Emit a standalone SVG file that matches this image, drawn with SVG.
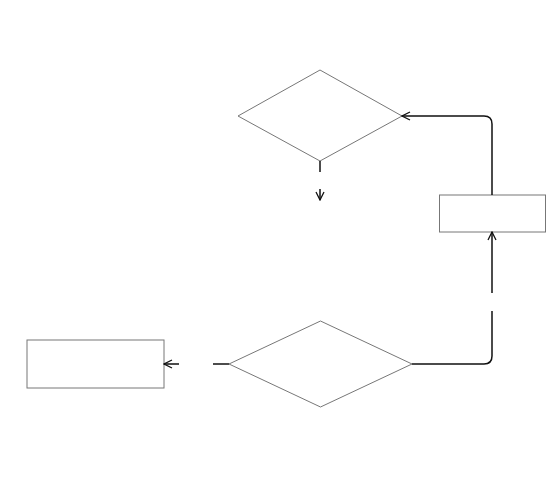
<svg xmlns="http://www.w3.org/2000/svg" width="546" height="489" viewBox="0 0 546 489">
<style>
.shape{fill:#fff;stroke:#777;stroke-width:1}
.edge{fill:none;stroke:#111;stroke-width:1.5}
</style>
<defs>
<marker id="arr" viewBox="0 0 10 10" refX="9" refY="5" markerWidth="10" markerHeight="10" markerUnits="userSpaceOnUse" orient="auto">
<path d="M1,1 L9,5 L1,9" fill="none" stroke="#111" stroke-width="1.3"/>
</marker>
</defs>
<rect width="546" height="489" fill="#fff"/>
<g id="nodes">
<g id="d1"><polygon class="shape" points="320,70 402,116 320,161 238,116"/></g>
<g id="b1"><rect class="shape" x="439.5" y="195" width="106" height="37"/></g>
<g id="d2"><polygon class="shape" points="320.5,321 412,364 320.5,407 229,364"/></g>
<g id="b2"><rect class="shape" x="27" y="340" width="137" height="48"/></g>
</g>
<g id="connectors">
<path class="edge" d="M492,195 V124 Q492,116 484,116 H402" marker-end="url(#arr)"/>
<path class="edge" d="M320,161 V172"/>
<path class="edge" d="M320,189 V200" marker-end="url(#arr)"/>
<path class="edge" d="M412,364 H484 Q492,364 492,356 V311"/>
<path class="edge" d="M492,293 V232" marker-end="url(#arr)"/>
<path class="edge" d="M229,364 H213"/>
<path class="edge" d="M179,364 H164" marker-end="url(#arr)"/>
</g>
</svg>
